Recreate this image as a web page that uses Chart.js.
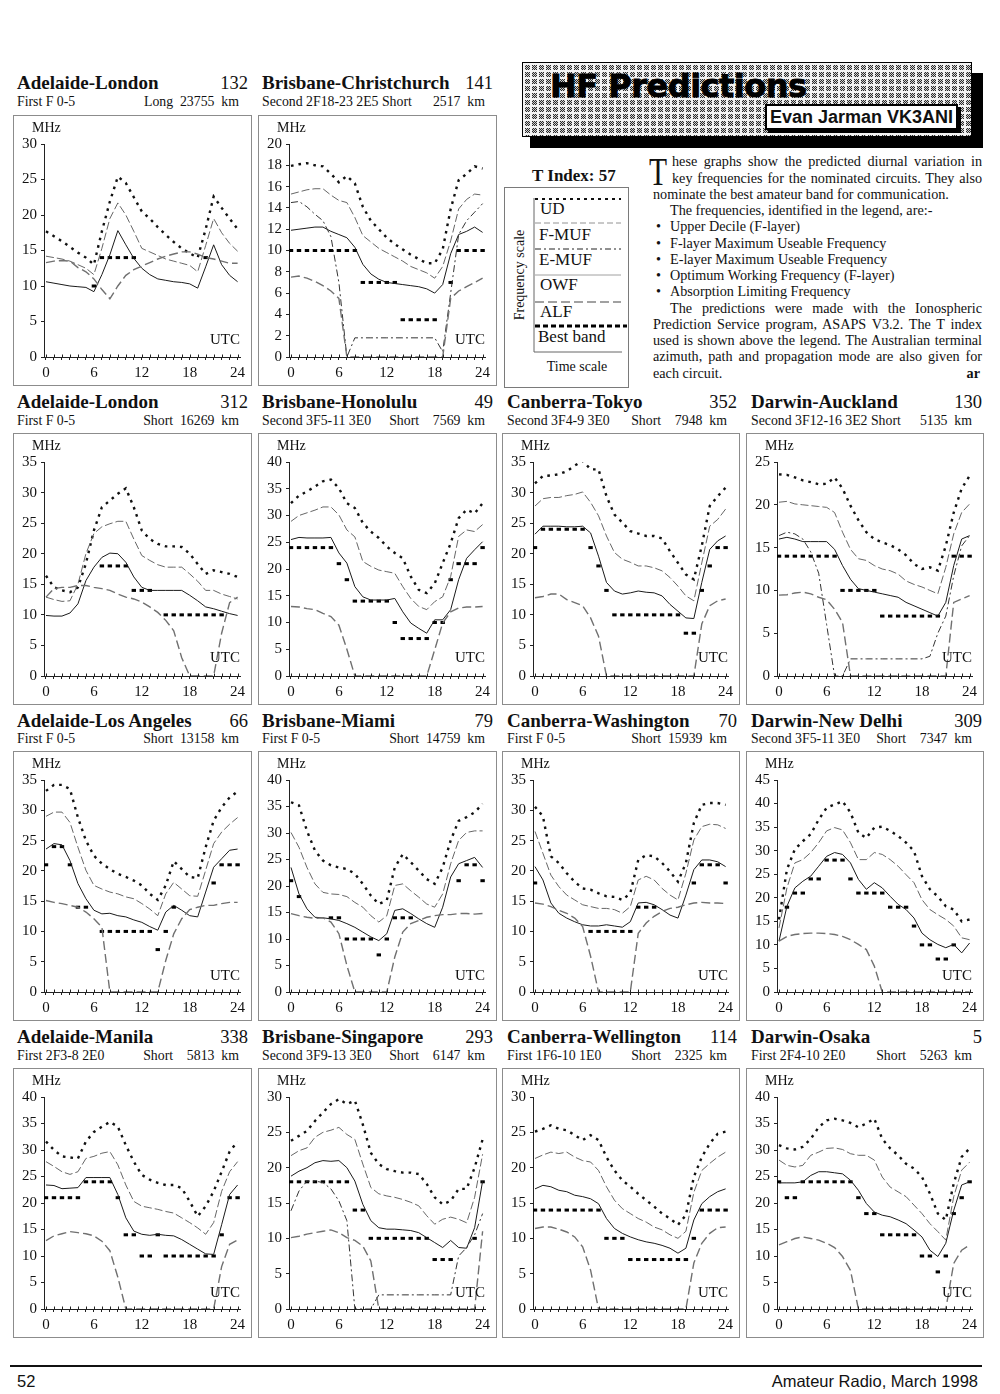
<!DOCTYPE html>
<html>
<head>
<meta charset="utf-8">
<title>HF Predictions</title>
<script src="https://cdn.jsdelivr.net/npm/chart.js@4.4.1/dist/chart.umd.min.js"></script>
<style>
html, body { margin: 0; padding: 0; background: #fff; }
#page { position: relative; width: 1000px; height: 1394px; overflow: hidden; background: #fff;
        font-family: "Liberation Serif", "Times New Roman", serif; color: #111; }
.abs { position: absolute; white-space: pre; line-height: 1; }
.title { font-weight: bold; font-size: 19px; }
.num { font-size: 18.5px; }
.sub { font-size: 13.8px; }
.box { position: absolute; border: 1px solid #8c8c8c; box-sizing: border-box; }
.box canvas { position: absolute; left: 0; top: 0; }
.mhz { position: absolute; font-size: 14px; line-height: 1; }
.utc { position: absolute; font-size: 15px; line-height: 1; }
#shadow { position: absolute; left: 530px; top: 73px; width: 453px; height: 75px; background: #000; }
#banner { position: absolute; left: 522px; top: 62px; width: 450px; height: 75px; box-sizing: border-box;
          border: 1px solid #000;
          background-color: #eee;
          background-image: linear-gradient(to right, #f4f4f4 2px, transparent 2px),
                            linear-gradient(to bottom, #f4f4f4 2px, transparent 2px),
                            repeating-conic-gradient(#2a2a2a 0 25%, #cfcfcf 0 50%);
          background-size: 7px 7px, 7px 7px, 2px 2px; }
#hf { position: absolute; left: 550px; top: 70px; font-family: "DejaVu Sans", sans-serif; font-weight: bold;
      font-size: 32px; letter-spacing: -0.5px; line-height: 1; color: #000; -webkit-text-stroke: 0.8px #000; white-space: pre; }
#author { position: absolute; left: 765px; top: 104px; width: 193px; height: 26px; box-sizing: border-box;
          background: #fff; border: 2px solid #000; box-shadow: 3px 3px 0 #000;
          font-family: "Liberation Sans", Arial, sans-serif; font-weight: bold; font-size: 18px;
          line-height: 22px; text-align: center; white-space: pre; }
#legend { position: absolute; left: 504px; top: 187px; width: 125px; height: 201px; box-sizing: border-box; border: 1px solid #7a7a7a; }
#legend svg { position: absolute; left: -1px; top: -1px; }
.lg { position: absolute; font-size: 17px; line-height: 1; white-space: pre; }
#txt { position: absolute; left: 653px; top: 153.3px; width: 329px; font-size: 14.2px; line-height: 16.25px; }
#txt div { white-space: nowrap; }
#txt .j { text-align: justify; text-align-last: justify; white-space: normal; }
#txt .bl { padding-left: 17px; position: relative; }
#txt .bl::before { content: "\2022"; position: absolute; left: 3px; }
#dropcap { position: absolute; left: 649px; top: 151px; font-size: 41px; line-height: 1; transform: scaleX(0.72); transform-origin: left top; }
#rule { position: absolute; left: 10px; top: 1365px; width: 972px; height: 1.5px; background: #111; }
.foot { position: absolute; top: 1373px; font-family: "Liberation Sans", Arial, sans-serif; font-size: 16.5px; line-height: 1; white-space: pre; }
</style>
</head>
<body>
<div id="page">

  <div id="shadow"></div>
  <div id="banner"></div>
  <div id="hf">HF Predictions</div>
  <div id="author">Evan Jarman VK3ANI</div>

  <div class="abs" style="left:532px; top:166.8px; font-size:17px; font-weight:bold;">T Index: 57</div>
  <div id="legend">
    <svg width="125" height="201" xmlns="http://www.w3.org/2000/svg">
      <line x1="30" y1="11" x2="30" y2="165" stroke="#666" stroke-width="1"/>
      <line x1="30" y1="165" x2="118" y2="165" stroke="#666" stroke-width="1"/>
      <line x1="31" y1="12" x2="117" y2="12" stroke="#111" stroke-width="2" stroke-dasharray="3 4"/>
      <line x1="31" y1="36" x2="117" y2="36" stroke="#777" stroke-width="0.8" stroke-dasharray="6 3"/>
      <line x1="31" y1="62" x2="117" y2="62" stroke="#222" stroke-width="1" stroke-dasharray="6 3 2 3"/>
      <line x1="31" y1="88" x2="117" y2="88" stroke="#888" stroke-width="0.8"/>
      <line x1="31" y1="115" x2="117" y2="115" stroke="#444" stroke-width="1.2" stroke-dasharray="9 4"/>
      <line x1="31" y1="139" x2="123" y2="139" stroke="#000" stroke-width="3" stroke-dasharray="5 3"/>
    </svg>
  </div>
  <div class="lg" style="left:540px; top:200px;">UD</div>
  <div class="lg" style="left:539px; top:226px;">F-MUF</div>
  <div class="lg" style="left:539px; top:251px;">E-MUF</div>
  <div class="lg" style="left:540px; top:276px;">OWF</div>
  <div class="lg" style="left:540px; top:303px;">ALF</div>
  <div class="lg" style="left:538px; top:328px;">Best band</div>
  <div class="abs" style="left:460px; top:268px; width:120px; text-align:center; font-size:14px; transform:rotate(-90deg);">Frequency scale</div>
  <div class="abs" style="left:527px; top:360px; width:100px; text-align:center; font-size:14px;">Time scale</div>

  <div id="dropcap">T</div>
  <div id="txt">
    <div class="j" style="padding-left:19px">hese graphs show the predicted diurnal variation in</div>
    <div class="j" style="padding-left:19px">key frequencies for the nominated circuits. They also</div>
    <div>nominate the best amateur band for communication.</div>
    <div style="padding-left:17px">The frequencies, identified in the legend, are:-</div>
    <div class="bl">Upper Decile (F-layer)</div>
    <div class="bl">F-layer Maximum Useable Frequency</div>
    <div class="bl">E-layer Maximum Useable Frequency</div>
    <div class="bl">Optimum Working Frequency (F-layer)</div>
    <div class="bl">Absorption Limiting Frequency</div>
    <div class="j" style="padding-left:17px">The predictions were made with the Ionospheric</div>
    <div class="j">Prediction Service program, ASAPS V3.2. The T index</div>
    <div class="j">used is shown above the legend. The Australian terminal</div>
    <div class="j">azimuth, path and propagation mode are also given for</div>
    <div>each circuit.<b style="float:right; margin-right:2px">ar</b></div>
  </div>

  <div id="rule"></div>
  <div class="foot" style="left:17px;">52</div>
  <div class="foot" style="right:22px;">Amateur Radio, March 1998</div>

</div>

<script>
var hours = [0,1,2,3,4,5,6,7,8,9,10,11,12,13,14,15,16,17,18,19,20,21,22,23,24];

// Adelaide-London, long path (132)
var adlLon132_ud   = [17.7,17,16.3,15.5,14.7,14,13,17.7,21.9,25.4,24.5,22.5,20.5,19.5,18.3,17.2,16.2,15.3,14.6,14,18,22.6,21,19.5,18];
var adlLon132_fmuf = [14.2,14,13.8,13.5,13,12.5,11.6,15.3,19.5,21.7,20,17.7,15.3,14.8,14.3,13.8,13.5,13.2,12.9,12,15.7,19.5,17.5,16,14.9];
var adlLon132_owf  = [10.6,10.4,10.2,10,9.9,9.8,9.2,11.6,14.4,17.8,15.8,13.9,12.5,11.6,11,10.8,10.6,10.5,10.3,9.7,12.7,15.8,13,11.5,10.6];
var adlLon132_alf  = [13.3,13.5,13.6,13.5,12.6,12,11,9.5,8.2,10,11.5,12.3,12.8,13.3,13.8,14.2,14.5,14.8,14.8,14.5,14,13.8,13.5,13.2,13.2];
var adlLon132_best = [null,null,null,null,null,null,10,14,14,14,14,14,null,null,null,null,null,null,null,null,14,null,null,null,null];

// Brisbane-Christchurch (141)
var brsChc141_ud   = [17.95,18.1,18.2,18,17.9,17.2,16.4,17,16.3,14.1,12.8,12,11.2,10.6,10.1,9.6,9.2,8.8,8.8,10.1,13.9,16.6,17.2,17.9,17.7];
var brsChc141_fmuf = [15.3,15.5,15.7,15.8,15.8,15.2,14.7,14.5,13.1,11.4,10.8,10.2,9.8,9.4,9,8.5,8.2,7.9,7.4,8.5,10.9,13.9,14.8,15.3,15.2];
var brsChc141_emuf = [14.5,14.6,14.1,13.4,12.8,11.3,7,0,1.8,1.8,1.8,1.8,1.8,1.8,1.8,1.8,1.8,1.8,1.8,0.5,6,11.5,12.8,13.6,14.4];
var brsChc141_owf  = [11.9,12,12.1,12.2,12.2,11.8,11.5,11.2,10.3,8.7,7.8,7.3,7,6.9,6.8,6.7,6.6,6.4,6,6.8,9.7,11.5,11.8,12.2,11.7];
var brsChc141_alf  = [7.5,7.6,7.4,7.1,6.7,6.2,5.5,0,0,0,0,0,0,0,0,0,0,0,0,0,5.5,6.2,6.6,7,7.4];
var brsChc141_best = [10,10,10,10,10,10,10,10,10,7,7,7,7,7,3.5,3.5,3.5,3.5,3.5,null,7,10,10,10,10];

// Adelaide-London, short path (312)
var adlLon312_ud   = [16.4,14.5,14,13.7,14.5,18.4,23.8,27.6,28.7,29.8,30.7,27.6,23.8,22.4,21.6,21.2,21.2,21.1,20,18.3,16.7,17.3,17,16.7,16.2];
var adlLon312_fmuf = [12.9,12.5,12.2,12.3,15,20,23.3,24.4,24.9,25.3,25.3,22.4,19.7,18.9,18.2,17.8,17.8,17.8,16.7,15.5,14,14,13.4,13,12.6];
var adlLon312_owf  = [9.9,9.8,9.8,10.3,11.8,15.6,17.8,19.4,20.1,20,18.6,16.2,14.5,14,14,14,14,14,13.2,12.3,11.3,11,10.6,10.2,9.9];
var adlLon312_alf  = [12.9,14.3,14.5,14.5,14.8,14.8,14.5,14.3,14,13.4,12.9,12.6,12.1,11.3,10.4,9.1,7.4,3,0,0,0,0,7,12,12.9];
var adlLon312_best = [null,null,null,null,null,null,null,18,18,18,18,14,14,14,null,10,10,10,10,10,10,10,10,null,null];

// Brisbane-Honolulu (49)
var brsHnl49_ud   = [32.3,33.7,34.5,35.4,36.4,36.7,35.1,32.3,31.4,28.6,27,25.8,24.2,23,22,18.6,16.1,15.5,17.3,21.1,24.8,29.5,31.1,30.4,32.3];
var brsHnl49_fmuf = [28.9,30,30.5,31,31.6,31.6,30.1,27.3,26,21.4,20.5,19.8,19.5,19.2,16.7,14.5,13,12.4,13.9,14.8,18.6,26.1,27.3,27,28.3];
var brsHnl49_owf  = [25.5,25.9,25.8,25.8,25.8,25.9,23,21.1,16.7,14.8,14.2,14.2,14.2,14.5,12,9.9,8.9,8,10.5,10.5,12.4,18,22,23.6,25.1];
var brsHnl49_alf  = [13,12.9,12.6,12.4,11.7,11.1,9.5,5,0,0,0,0,0,0,0,0,0,0,4.9,9.9,12,12.7,12.9,12.9,13];
var brsHnl49_best = [24,24,24,24,24,24,21,18,14,14,14,14,14,10,7,7,7,7,10,10,18,21,21,21,24];

// Canberra-Tokyo (352)
var cbrTyo352_ud   = [31.5,32.7,32.8,33,33.5,34.4,35.2,33.8,33.8,29.4,26.4,25.1,23.7,23.3,22.9,22.9,22.5,20.4,18.5,16.6,15.8,21.3,27.8,29.4,30.8];
var cbrTyo352_fmuf = [27.8,29,29.2,29.2,29.5,29.7,30.1,28.4,26.2,22.9,20.2,19.1,18.6,18,18,17.7,17.2,16.1,14.7,13.1,12.3,18.5,24.5,25.6,27.3];
var cbrTyo352_owf  = [23.2,24.5,24.5,24.5,24.4,24.4,24.5,23.4,19.6,15.3,13.9,13.4,13.6,13.9,13.7,13.6,13.1,11.7,10.6,9.5,9.4,15.3,20.7,22.1,22.9];
var cbrTyo352_alf  = [12.8,13,13.4,13.4,12.5,12,11.5,9.5,6.5,0,0,0,0,0,0,0,0,0,0,0,0,8.5,11.5,12.3,12.6];
var cbrTyo352_best = [21,24,24,24,24,24,24,21,18,14,10,10,10,10,10,10,10,10,10,7,7,14,18,21,21];

// Darwin-Auckland (130)
var drwAkl130_ud   = [23.55,23.5,23.2,22.85,22.65,22.4,22.45,23.2,21.9,19.9,18.2,16.8,16,15.6,15.3,14.8,14.1,13.1,12.5,12.7,12.3,15.2,19.1,21.9,23.4];
var drwAkl130_fmuf = [20.3,20.4,20.1,20,19.9,19.8,19.7,19.1,16.8,14.8,13.7,13.5,12.9,12.5,12.3,11.9,11.1,10.7,10.4,10,9.6,12.7,16.6,19.1,20.1];
var drwAkl130_emuf = [16.4,16.8,16.6,16,14.5,12,6,0,0,2,2,2,2,2,2,2,2,2,2,2.3,5,7,11.7,15.2,16.4];
var drwAkl130_owf  = [16,16.2,16,15.7,15.7,15.7,15.7,14.8,12.9,11.3,10.2,10,9.8,9.6,9.4,9.2,8.6,8.2,7.8,7.4,7,8.6,12.9,16,16.4];
var drwAkl130_alf  = [9.45,9.5,9.7,9.8,9.6,9.2,8.9,7.8,6.25,0,0,0,0,0,0,0,0,0,0,0,0,0,8.6,9,9.4];
var drwAkl130_best = [14,14,14,14,14,14,14,14,10,10,10,10,10,7,7,7,7,7,7,7,7,null,14,14,14];

// Adelaide-Los Angeles (66)
var adlLax66_ud   = [33.2,34.2,34.2,33.5,28.8,25,22.5,21.2,20.3,19.5,19,18.4,17.6,16.2,15.2,17.6,21.6,20.3,19,18.8,23.9,28.3,30.5,32.1,33.1];
var adlLax66_fmuf = [29,29.7,29.7,28,23.9,20.1,17.6,17,16.5,16.2,15.7,15.4,14.6,13.7,12.6,16.2,18.1,17,15.9,15.8,20.1,24.5,26.4,27.7,28.8];
var adlLax66_owf  = [23.6,24.5,24.3,21.7,17.9,15.4,13.5,12.9,13,12.6,12.4,11.9,11.5,10.8,10.2,13.2,14.3,13.5,12.6,12.4,16.5,20.6,22,23.4,23.6];
var adlLax66_alf  = [15.1,14.8,14.6,14.3,14,13.2,12.1,10.7,0,0,0,0,0,0,0,5.2,9.6,12.1,13.6,14,14.3,14.3,14.6,14.8,14.8];
var adlLax66_best = [21,24,24,21,14,14,null,10,10,10,10,10,10,10,7,10,14,null,null,null,null,18,21,21,21];

// Brisbane-Miami (79)
var brsMia79_ud   = [35.8,35.2,30.4,26.7,24.8,23.9,23.5,23.2,22.3,20.4,18.2,16.6,17.3,23.5,26,24.5,22.9,21.3,20.4,23.5,28.6,32.3,33,33.9,35.5];
var brsMia79_fmuf = [30.1,27.3,23.5,20.4,18.8,18.5,18.4,18,16.9,16,14.4,13.2,14.4,20.1,20.4,19.1,17.9,16.6,16,18.5,24.2,28.6,30.1,30.4,30.4];
var brsMia79_owf  = [23.5,18.5,15.7,14.1,14,13.8,13.5,12.9,12.2,11.3,10.4,9.7,11,15.4,15.7,14.8,13.8,12.9,12.2,16,21.7,24.2,24.8,25.4,23.5];
var brsMia79_alf  = [14.8,14.4,14.1,13.9,14,13.2,11,5,0,0,0,0,0,6.6,11.3,12.9,13.5,14.1,14.4,14.6,14.6,14.8,14.8,14.7,14.8];
var brsMia79_best = [21,18,null,null,null,14,14,10,10,10,10,7,10,14,14,14,null,null,null,null,null,21,24,24,21];

// Canberra-Washington (70)
var cbrWas70_ud   = [30.6,29,22.4,21.3,19.6,18.2,17.1,16.9,16.3,15.8,15.7,15.2,16.3,21.8,22.6,22.4,21.3,19.9,18.2,21.3,27.9,30.9,31.2,31.2,30.9];
var cbrWas70_fmuf = [26.5,22.9,19.3,17.4,16,15.2,14.4,14.1,13.8,13.8,13.6,13,14.1,18.5,19.1,18.5,17.1,16,15.2,19.6,25.1,27.3,27.7,27.6,27];
var cbrWas70_owf  = [20.7,18.5,14.7,13,12.2,11.6,11.1,10.9,10.9,11.1,10.9,10.7,11.6,14.7,14.8,14.4,13.6,12.7,12.2,16,20.2,21.8,21.8,21.5,20.7];
var cbrWas70_alf  = [14.7,14.5,14.1,13.5,13,12.2,10.8,5.9,0,0,0,0,0,9.7,11.4,12.5,13.3,13.8,14,14.4,14.7,14.8,14.7,14.7,14.6];
var cbrWas70_best = [18,null,null,null,null,null,null,10,10,10,10,10,10,14,14,14,null,null,null,null,18,21,21,21,18];

// Darwin-New Delhi (309)
var drwDel309_ud   = [15.4,26,30.3,32,33.5,36.6,39.1,39.8,40.5,38.1,33.8,32.7,34.9,35.1,34.2,33.1,31.7,29.9,24.6,21.8,20.3,18.2,17.5,15,15.4];
var drwDel309_fmuf = [13.6,22.1,27.4,28.1,29.6,31.7,34.2,34.9,34.4,31.7,28.1,28.1,29.6,29.2,28.1,26.7,24.9,23.2,19.6,17.5,16.4,15.4,14,11.5,11.1];
var drwDel309_owf  = [10.8,18.2,22.1,23.5,24.6,26.7,28.8,29.6,29.2,27.4,23.9,21.8,23.2,22.1,20.3,18.6,17.5,15.7,12.5,11.1,10.1,9.4,10.1,8.3,10.4];
var drwDel309_alf  = [10.8,11.8,12.2,12.4,12.5,12.5,12.4,12.2,11.8,11.1,10.1,9,5.5,0,0,0,0,0,0,0,0,0,0,0,0];
var drwDel309_best = [null,18,21,21,24,24,28,28,28,24,21,21,21,21,18,18,18,14,10,10,7,7,10,null,null];

// Adelaide-Manila (338)
var adlMnl338_ud   = [31.6,30,28.8,28.6,28.4,31.6,33.4,34.4,35.3,34.4,30.9,27.8,25.3,24.4,23.8,23.4,23.4,22.8,20.3,17.5,19.4,22.2,25.9,29.7,31.6];
var adlMnl338_fmuf = [27.8,26.9,25.9,25.4,25.9,28.4,28.8,29.4,29.7,27.2,23.4,20.3,19.4,19.1,18.8,18.4,18.1,17.2,16.3,15.3,14.1,16.3,22.2,25.9,27.8];
var adlMnl338_owf  = [23.4,23.3,22.7,22.8,22.9,24.8,24.8,24.8,24.8,21.6,17.2,14.7,14.1,13.9,14.1,13.9,13.8,13.1,12.2,11.3,10.4,10.3,15.9,21.6,23.4];
var adlMnl338_alf  = [12.9,13.8,14.2,14.6,14.4,14.2,13.8,12.8,11,6,0,0,0,0,0,0,0,0,0,0,0,0,8,12.2,13];
var adlMnl338_best = [21,21,21,21,21,24,24,24,24,21,14,14,10,10,14,10,10,10,10,10,10,10,14,21,21];

// Brisbane-Singapore (293)
var brsSin293_ud   = [23.8,24.5,25.2,26.6,27.8,29,29.7,29,29.5,26.1,22.1,20.5,19.8,19.5,19.3,19.3,19.1,17.7,15.8,14.8,15.3,17,17,20,24];
var brsSin293_fmuf = [21.7,22.4,22.8,24.3,25,25.3,25.7,24.7,24,20.5,17.2,16.3,16,15.8,15.5,15.1,14.6,13.2,12,12.7,13,12.7,12.2,15.8,21.9];
var brsSin293_emuf = [13.9,16.7,18.1,18.1,17.9,17,15.3,12.5,0,0,0,2,2,2,2,2,2,2,2,2,2,7.5,8.7,10.5,13.5];
var brsSin293_owf  = [18.8,19.5,20,20.7,21,20.9,21,20,18.1,14.8,12.5,11.5,11.3,11.3,11.2,11.1,10.8,10.1,9.4,8.7,9.7,8.7,8.6,11.5,18.1];
var brsSin293_alf  = [10.1,10.3,10.6,10.8,11,11.2,10.8,10.1,9.7,8.9,6.8,0,0,0,0,0,0,0,0,0,0,0,0,0,11];
var brsSin293_best = [18,18,18,18,18,18,18,18,14,14,10,10,10,10,10,10,10,10,7,7,7,null,null,10,18];

// Canberra-Wellington (114)
var cbrWlg114_ud   = [25.1,25.5,26,25.5,25.3,24.6,23.9,24.6,23.9,21.5,19.6,18.2,17.3,16.3,15.4,14.5,13.5,12.8,11.9,13.3,18.7,21.5,23.4,24.8,25.1];
var cbrWlg114_fmuf = [21.3,21.8,22.2,22,22.2,21.5,21,20.8,19.6,17.3,15.4,14.2,13.5,12.8,12.3,11.6,11.2,10.5,10,11,16.5,19.6,20.6,21.5,22.2];
var cbrWlg114_owf  = [17,17.5,17.3,16.8,16.6,16.1,15.9,15.6,14.9,12.8,11.4,10.7,10.2,9.8,9.5,9.3,9,8.6,7.9,8.6,12.6,14.9,15.9,16.6,17];
var cbrWlg114_alf  = [11.4,11.6,11.6,11.3,10.9,10.2,8.8,5.5,0,0,0,0,0,0,0,0,0,0,0,0,6.5,9.3,10.7,11.5,11.6];
var cbrWlg114_best = [14,14,14,14,14,14,14,14,14,10,10,10,7,7,7,7,7,7,7,7,10,14,14,14,14];

// Darwin-Osaka (5)
var drwOsa5_ud   = [30.9,30.3,30.1,30.6,32.1,34.3,35.6,35.9,35.6,35.1,34.3,35,35.9,32.1,30.3,29,27.4,26.5,24.9,21.8,18,16.8,23.7,28.7,30.3];
var drwOsa5_fmuf = [28.1,27.1,26.8,27.1,29,29.6,30.3,30.4,30.1,29.3,29,29,28.1,24.9,23,22.1,21.2,19.6,18,16.1,14.6,13,21.2,26.2,27.7];
var drwOsa5_owf  = [23.8,23.8,23.8,24,25.2,25.9,25.9,25.7,25.5,24.3,22.4,19.9,18.3,17.7,17.4,16.8,16.1,14.9,13.6,11.1,9.9,12.4,18.6,23.4,24];
var drwOsa5_alf  = [12.1,12.7,13.3,13.6,13.3,13,12.4,11.6,9.9,7.3,0,0,0,0,0,0,0,0,0,0,0,0,8.6,11.1,12.1];
var drwOsa5_best = [24,21,21,24,24,24,24,24,24,24,21,18,18,14,14,14,14,14,10,10,7,10,18,21,24];

// page grid: columns and rows of the chart cells
var cols = [
  {box: 13,  w: 239, title: 17,  num: 248, sub: 239},
  {box: 258, w: 239, title: 262, num: 493, sub: 485},
  {box: 502, w: 238, title: 507, num: 737, sub: 727},
  {box: 746, w: 238, title: 751, num: 982, sub: 972}
];
var rows = [
  {title: 89,   sub: 107,  box: 115,  h: 271},
  {title: 408,  sub: 426,  box: 433,  h: 272},
  {title: 727,  sub: 744,  box: 751,  h: 270},
  {title: 1043, sub: 1061, box: 1068, h: 270}
];

var circuits = [
  {name: 'Adelaide-London', num: '132', mode: 'First F 0-5', path: 'Long  23755  km', row: 0, col: 0, yMax: 30, yStep: 5,
   ud: adlLon132_ud, fmuf: adlLon132_fmuf, emuf: null, owf: adlLon132_owf, alf: adlLon132_alf, best: adlLon132_best},
  {name: 'Brisbane-Christchurch', num: '141', mode: 'Second 2F18-23 2E5 Short', path: '2517  km', row: 0, col: 1, yMax: 20, yStep: 2,
   ud: brsChc141_ud, fmuf: brsChc141_fmuf, emuf: brsChc141_emuf, owf: brsChc141_owf, alf: brsChc141_alf, best: brsChc141_best},
  {name: 'Adelaide-London', num: '312', mode: 'First F 0-5', path: 'Short  16269  km', row: 1, col: 0, yMax: 35, yStep: 5,
   ud: adlLon312_ud, fmuf: adlLon312_fmuf, emuf: null, owf: adlLon312_owf, alf: adlLon312_alf, best: adlLon312_best},
  {name: 'Brisbane-Honolulu', num: '49', mode: 'Second 3F5-11 3E0', path: 'Short    7569  km', row: 1, col: 1, yMax: 40, yStep: 5,
   ud: brsHnl49_ud, fmuf: brsHnl49_fmuf, emuf: null, owf: brsHnl49_owf, alf: brsHnl49_alf, best: brsHnl49_best},
  {name: 'Canberra-Tokyo', num: '352', mode: 'Second 3F4-9 3E0', path: 'Short    7948  km', row: 1, col: 2, yMax: 35, yStep: 5,
   ud: cbrTyo352_ud, fmuf: cbrTyo352_fmuf, emuf: null, owf: cbrTyo352_owf, alf: cbrTyo352_alf, best: cbrTyo352_best},
  {name: 'Darwin-Auckland', num: '130', mode: 'Second 3F12-16 3E2 Short', path: '5135  km', row: 1, col: 3, yMax: 25, yStep: 5,
   ud: drwAkl130_ud, fmuf: drwAkl130_fmuf, emuf: drwAkl130_emuf, owf: drwAkl130_owf, alf: drwAkl130_alf, best: drwAkl130_best},
  {name: 'Adelaide-Los Angeles', num: '66', mode: 'First F 0-5', path: 'Short  13158  km', row: 2, col: 0, yMax: 35, yStep: 5,
   ud: adlLax66_ud, fmuf: adlLax66_fmuf, emuf: null, owf: adlLax66_owf, alf: adlLax66_alf, best: adlLax66_best},
  {name: 'Brisbane-Miami', num: '79', mode: 'First F 0-5', path: 'Short  14759  km', row: 2, col: 1, yMax: 40, yStep: 5,
   ud: brsMia79_ud, fmuf: brsMia79_fmuf, emuf: null, owf: brsMia79_owf, alf: brsMia79_alf, best: brsMia79_best},
  {name: 'Canberra-Washington', num: '70', mode: 'First F 0-5', path: 'Short  15939  km', row: 2, col: 2, yMax: 35, yStep: 5,
   ud: cbrWas70_ud, fmuf: cbrWas70_fmuf, emuf: null, owf: cbrWas70_owf, alf: cbrWas70_alf, best: cbrWas70_best},
  {name: 'Darwin-New Delhi', num: '309', mode: 'Second 3F5-11 3E0', path: 'Short    7347  km', row: 2, col: 3, yMax: 45, yStep: 5,
   ud: drwDel309_ud, fmuf: drwDel309_fmuf, emuf: null, owf: drwDel309_owf, alf: drwDel309_alf, best: drwDel309_best},
  {name: 'Adelaide-Manila', num: '338', mode: 'First 2F3-8 2E0', path: 'Short    5813  km', row: 3, col: 0, yMax: 40, yStep: 5,
   ud: adlMnl338_ud, fmuf: adlMnl338_fmuf, emuf: null, owf: adlMnl338_owf, alf: adlMnl338_alf, best: adlMnl338_best},
  {name: 'Brisbane-Singapore', num: '293', mode: 'Second 3F9-13 3E0', path: 'Short    6147  km', row: 3, col: 1, yMax: 30, yStep: 5,
   ud: brsSin293_ud, fmuf: brsSin293_fmuf, emuf: brsSin293_emuf, owf: brsSin293_owf, alf: brsSin293_alf, best: brsSin293_best},
  {name: 'Canberra-Wellington', num: '114', mode: 'First 1F6-10 1E0', path: 'Short    2325  km', row: 3, col: 2, yMax: 30, yStep: 5,
   ud: cbrWlg114_ud, fmuf: cbrWlg114_fmuf, emuf: null, owf: cbrWlg114_owf, alf: cbrWlg114_alf, best: cbrWlg114_best},
  {name: 'Darwin-Osaka', num: '5', mode: 'First 2F4-10 2E0', path: 'Short    5263  km', row: 3, col: 3, yMax: 40, yStep: 5,
   ud: drwOsa5_ud, fmuf: drwOsa5_fmuf, emuf: null, owf: drwOsa5_owf, alf: drwOsa5_alf, best: drwOsa5_best}
];

var lineStyles = {
  alf:  {color: '#707070', width: 1.4, dash: [9, 4]},
  emuf: {color: '#333333', width: 1,   dash: [7, 3, 2, 3]},
  owf:  {color: '#1a1a1a', width: 1,   dash: []},
  fmuf: {color: '#555555', width: 0.9, dash: [8, 3]},
  ud:   {color: '#111111', width: 2.4, dash: [2.6, 5]}
};

var tickFont = {family: 'Liberation Serif', size: 15};

// small tick marks above the time axis, so each hour mark crosses the axis line
var crossTicks = {
  id: 'crossTicks',
  afterDraw: function(chart) {
    var xs = chart.scales.x, ctx = chart.ctx, y0 = chart.chartArea.bottom;
    ctx.save();
    ctx.strokeStyle = '#222';
    ctx.lineWidth = 1;
    ctx.beginPath();
    xs.ticks.forEach(function(t) {
      var px = Math.round(xs.getPixelForValue(t.value)) + 0.5;
      ctx.moveTo(px, y0 - 2.5);
      ctx.lineTo(px, y0);
    });
    ctx.stroke();
    ctx.restore();
  }
};

function toPoints(arr) {
  return arr.map(function(v, i) { return {x: hours[i], y: v}; });
}

function lineSet(arr, st) {
  return {
    data: toPoints(arr),
    borderColor: st.color,
    borderWidth: st.width,
    borderDash: st.dash,
    pointRadius: 0,
    fill: false,
    tension: 0,
    spanGaps: false
  };
}

function bandSet(arr) {
  return {
    data: toPoints(arr),
    showLine: false,
    pointStyle: 'line',
    pointRadius: 2.2,
    pointBorderWidth: 3,
    pointBorderColor: '#000',
    pointBackgroundColor: '#000',
    borderColor: '#000'
  };
}

function addText(page, cls, text, css) {
  var d = document.createElement('div');
  d.className = cls;
  d.textContent = text;
  for (var k in css) d.style[k] = css[k];
  page.appendChild(d);
  return d;
}

function drawCircuit(c) {
  var page = document.getElementById('page');
  var col = cols[c.col], row = rows[c.row];

  addText(page, 'abs title', c.name, {left: col.title + 'px', top: (row.title - 15.9) + 'px'});
  addText(page, 'abs num', c.num, {right: (1000 - col.num) + 'px', top: (row.title - 15.5) + 'px'});
  addText(page, 'abs sub', c.mode, {left: col.title + 'px', top: (row.sub - 11.6) + 'px'});
  addText(page, 'abs sub', c.path, {right: (1000 - col.sub) + 'px', top: (row.sub - 11.6) + 'px'});

  var box = document.createElement('div');
  box.className = 'box';
  box.style.left = col.box + 'px';
  box.style.top = row.box + 'px';
  box.style.width = col.w + 'px';
  box.style.height = row.h + 'px';
  page.appendChild(box);

  var cw = col.w - 2, ch = row.h - 2;
  var canvas = document.createElement('canvas');
  canvas.width = cw;
  canvas.height = ch;
  canvas.style.width = cw + 'px';
  canvas.style.height = ch + 'px';
  box.appendChild(canvas);

  addText(box, 'mhz', 'MHz', {left: '18px', top: '5px'});
  addText(box, 'utc', 'UTC', {right: '11px', top: '216px'});

  var sets = [lineSet(c.alf, lineStyles.alf)];
  if (c.emuf) sets.push(lineSet(c.emuf, lineStyles.emuf));
  sets.push(lineSet(c.owf, lineStyles.owf));
  sets.push(lineSet(c.fmuf, lineStyles.fmuf));
  sets.push(lineSet(c.ud, lineStyles.ud));
  sets.push(bandSet(c.best));

  new Chart(canvas, {
    type: 'line',
    data: {datasets: sets},
    plugins: [crossTicks],
    options: {
      responsive: false,
      animation: false,
      devicePixelRatio: 1,
      layout: {padding: {left: 0, top: 28, right: 11, bottom: 0}},
      plugins: {legend: {display: false}, tooltip: {enabled: false}},
      scales: {
        x: {
          type: 'linear', min: -0.25, max: 24.3,
          afterFit: function(s) { s.height = 28; },
          ticks: {
            stepSize: 1, autoSkip: false, maxRotation: 0, includeBounds: false,
            color: '#111', font: tickFont, padding: 4,
            callback: function(v) { return v % 6 === 0 ? String(v) : ''; }
          },
          grid: {display: true, drawOnChartArea: false, drawTicks: true, tickLength: 3, color: '#222'},
          border: {display: true, color: '#222', width: 1}
        },
        y: {
          min: 0, max: c.yMax,
          afterFit: function(s) { s.width = 30; },
          ticks: {stepSize: c.yStep, color: '#111', font: tickFont, padding: 4},
          grid: {display: true, drawOnChartArea: false, drawTicks: true, tickLength: 3, color: '#222'},
          border: {display: true, color: '#222', width: 1}
        }
      }
    }
  });
}

circuits.forEach(drawCircuit);
</script>
</body>
</html>
